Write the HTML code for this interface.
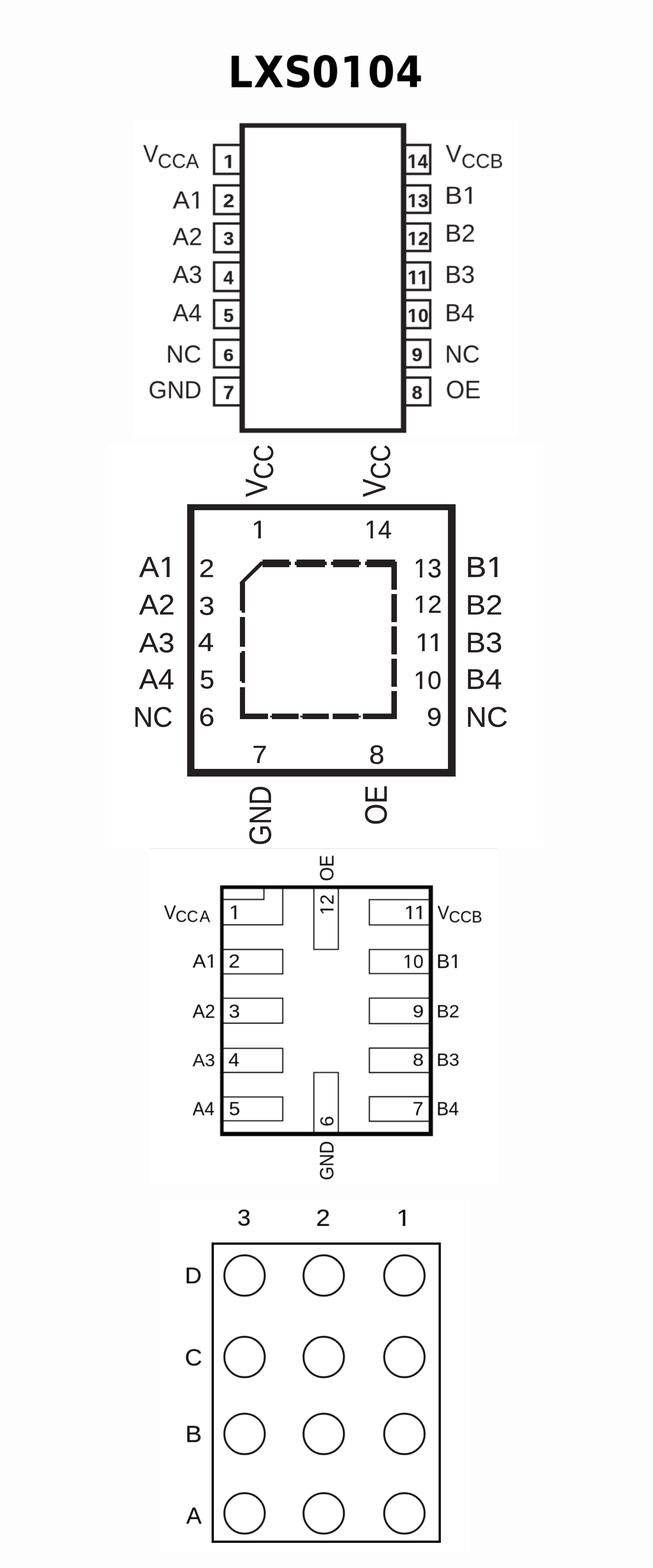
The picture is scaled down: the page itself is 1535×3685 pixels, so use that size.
<!DOCTYPE html>
<html lang="en">
<head>
<meta charset="utf-8">
<title>LXS0104</title>
<style>
html,body{margin:0;padding:0;background:#fdfdfd;}
body{width:1535px;height:3685px;overflow:hidden;position:relative;}
svg{display:block;position:absolute;left:0;top:0;font-family:"Liberation Sans",sans-serif;}
</style>
</head>
<body>
<svg width="1535" height="3685" viewBox="0 0 1535 3685" role="img" aria-label="LXS0104 pin configurations">
<defs>
<filter id="soft-pin-sop14" filterUnits="userSpaceOnUse" x="320" y="284" width="890" height="740" color-interpolation-filters="sRGB"><feConvolveMatrix order="3" kernelMatrix="1 2 1 2 4 2 1 2 1" divisor="16" edgeMode="duplicate" preserveAlpha="false"/></filter>
<filter id="soft-pin-uqfn12" filterUnits="userSpaceOnUse" x="370" y="2000" width="780" height="780" color-interpolation-filters="sRGB"><feConvolveMatrix order="3" kernelMatrix="1 2 1 2 4 2 1 2 1" divisor="16" edgeMode="duplicate" preserveAlpha="false"/></filter>
<filter id="soft-pin-bga12" filterUnits="userSpaceOnUse" x="420" y="2830" width="640" height="810" color-interpolation-filters="sRGB"><feConvolveMatrix order="3" kernelMatrix="1 2 1 2 4 2 1 2 1" divisor="16" edgeMode="duplicate" preserveAlpha="false"/></filter>
<filter id="soft-title" filterUnits="userSpaceOnUse" x="530" y="115" width="480" height="105" color-interpolation-filters="sRGB"><feConvolveMatrix order="3" kernelMatrix="1 4 1 4 16 4 1 4 1" divisor="36" edgeMode="duplicate" preserveAlpha="false"/></filter>
<clipPath id="k1"><path clip-rule="evenodd" d="M-60 -130H400V60H-60ZM3.2 -12.3H23.0V4.3H3.2ZM37.5 -12.3H56.3V4.3H37.5Z"/></clipPath>
<clipPath id="k2"><path clip-rule="evenodd" d="M-60 -130H400V60H-60ZM3.2 -12.3H23.0V4.3H3.2ZM37.5 -12.3H56.3V4.3H37.5ZM53.3 -12.3H73.1V4.3H53.3ZM87.6 -12.3H106.4V4.3H87.6Z"/></clipPath>
<clipPath id="k3"><path clip-rule="evenodd" d="M-60 -130H400V60H-60ZM71.2 -9.5H91.5V4.0H71.2ZM100.9 -9.5H120.2V4.0H100.9Z"/></clipPath>
<clipPath id="k4"><path clip-rule="evenodd" d="M-60 -130H400V60H-60ZM4.2 -9.8H24.5V4.3H4.2ZM34.5 -9.8H53.8V4.3H34.5Z"/></clipPath>
<clipPath id="k5"><path clip-rule="evenodd" d="M-60 -130H400V60H-60ZM4.2 -9.8H24.5V4.3H4.2ZM34.5 -9.8H53.8V4.3H34.5ZM52.4 -9.8H72.7V4.3H52.4ZM82.7 -9.8H102.0V4.3H82.7Z"/></clipPath>
<clipPath id="k6"><path clip-rule="evenodd" d="M-60 -130H400V60H-60ZM70.9 -9.8H91.2V4.3H70.9ZM101.2 -9.8H120.5V4.3H101.2Z"/></clipPath>
<clipPath id="k7"><path clip-rule="evenodd" d="M-60 -130H400V60H-60ZM4.5 -9.5H24.8V4.0H4.5ZM34.2 -9.5H53.5V4.0H34.2Z"/></clipPath>
<clipPath id="k8"><path clip-rule="evenodd" d="M-60 -130H400V60H-60ZM4.5 -9.5H24.8V4.0H4.5ZM34.2 -9.5H53.5V4.0H34.2ZM52.7 -9.5H73.0V4.0H52.7ZM82.4 -9.5H101.7V4.0H82.4Z"/></clipPath>
<clipPath id="k9"><path clip-rule="evenodd" d="M-60 -130H400V60H-60ZM4.3 -9.7H24.6V4.2H4.3ZM34.4 -9.7H53.7V4.2H34.4Z"/></clipPath>
<clipPath id="k10"><path clip-rule="evenodd" d="M0 -130H1600V60H0ZM792.0 -15.0H809.4V4H792.0ZM826.6 -15.0H844.0V4H826.6Z"/></clipPath>
</defs>
<g filter="url(#soft-title)">
<g id="title" transform="matrix(1.0192 0 0 1.0192 0 204.90)"><text x="526.00 585.21 655.46 719.45 784.51 848.13 912.40" y="0" font-size="100" font-weight="bold" font-family="'DejaVu Sans Condensed', 'DejaVu Sans', 'Liberation Sans', sans-serif" fill="#000" clip-path="url(#k10)">LXS0104</text></g>
</g>
<rect x="314.8" y="283.4" width="901" height="743.5" fill="#fff"/>
<g id="pin-sop14" stroke="#231f20" fill="#231f20" color="#231f20">
<g filter="url(#soft-pin-sop14)">
<g stroke="none">
<text transform="matrix(0.4872 0 0 0.4429 524.98 394.88)" font-size="100" font-weight="bold" stroke="currentColor" stroke-width="0.52" stroke-linejoin="round" clip-path="url(#k1)">1</text>
<text transform="matrix(0.4804 0 0 0.4423 524.14 487.08)" font-size="100" font-weight="bold" stroke="currentColor" stroke-width="0.52" stroke-linejoin="round">2</text>
<text transform="matrix(0.4497 0 0 0.4375 525.00 575.74)" font-size="100" font-weight="bold" stroke="currentColor" stroke-width="0.54" stroke-linejoin="round">3</text>
<text transform="matrix(0.4348 0 0 0.4516 524.97 668.08)" font-size="100" font-weight="bold" stroke="currentColor" stroke-width="0.54" stroke-linejoin="round">4</text>
<text transform="matrix(0.4352 0 0 0.4409 525.31 757.04)" font-size="100" font-weight="bold" stroke="currentColor" stroke-width="0.55" stroke-linejoin="round">5</text>
<text transform="matrix(0.4384 0 0 0.4304 525.09 848.75)" font-size="100" font-weight="bold" stroke="currentColor" stroke-width="0.55" stroke-linejoin="round">6</text>
<text transform="matrix(0.4680 0 0 0.4516 524.51 938.28)" font-size="100" font-weight="bold" stroke="currentColor" stroke-width="0.52" stroke-linejoin="round">7</text>
<text transform="matrix(0.4296 0 0 0.4574 958.11 394.88)" font-size="100" font-weight="bold" stroke="currentColor" stroke-width="0.54" stroke-linejoin="round" clip-path="url(#k1)">14</text>
<text transform="matrix(0.4424 0 0 0.4473 958.02 486.63)" font-size="100" font-weight="bold" stroke="currentColor" stroke-width="0.54" stroke-linejoin="round" clip-path="url(#k1)">13</text>
<text transform="matrix(0.4446 0 0 0.4437 958.01 576.18)" font-size="100" font-weight="bold" stroke="currentColor" stroke-width="0.54" stroke-linejoin="round" clip-path="url(#k1)">12</text>
<text transform="matrix(0.4745 0 0 0.4574 957.80 668.08)" font-size="100" font-weight="bold" stroke="currentColor" stroke-width="0.52" stroke-linejoin="round" clip-path="url(#k2)">11</text>
<text transform="matrix(0.4446 0 0 0.4417 958.01 757.04)" font-size="100" font-weight="bold" stroke="currentColor" stroke-width="0.54" stroke-linejoin="round" clip-path="url(#k1)">10</text>
<text transform="matrix(0.4590 0 0 0.4375 967.81 848.74)" font-size="100" font-weight="bold" stroke="currentColor" stroke-width="0.54" stroke-linejoin="round">9</text>
<text transform="matrix(0.4497 0 0 0.4403 968.07 938.24)" font-size="100" font-weight="bold" stroke="currentColor" stroke-width="0.54" stroke-linejoin="round">8</text>
<text transform="matrix(0.5344 0 0 0.5754 336.53 381.00)" font-size="100">V</text>
<text transform="matrix(0.4599 0 0 0.4746 370.70 394.53)" font-size="100">CCA</text>
<text transform="matrix(0.6000 0 0 0.5768 406.00 489.50)" font-size="100" clip-path="url(#k3)">A1</text>
<text transform="matrix(0.5684 0 0 0.5686 406.02 576.30)" font-size="100">A2</text>
<text transform="matrix(0.5660 0 0 0.5676 406.02 665.03)" font-size="100">A3</text>
<text transform="matrix(0.5588 0 0 0.5783 406.02 754.70)" font-size="100">A4</text>
<text transform="matrix(0.5751 0 0 0.5817 390.40 852.32)" font-size="100">NC</text>
<text transform="matrix(0.5619 0 0 0.5803 348.99 936.22)" font-size="100">GND</text>
<text transform="matrix(0.5588 0 0 0.5754 1047.72 381.00)" font-size="100">V</text>
<text transform="matrix(0.4637 0 0 0.4746 1084.68 394.53)" font-size="100">CCB</text>
<text transform="matrix(0.6227 0 0 0.5710 1045.62 478.70)" font-size="100" clip-path="url(#k3)">B1</text>
<text transform="matrix(0.5817 0 0 0.5700 1045.95 568.40)" font-size="100">B2</text>
<text transform="matrix(0.5745 0 0 0.5676 1046.00 665.03)" font-size="100">B3</text>
<text transform="matrix(0.5668 0 0 0.5783 1046.07 754.70)" font-size="100">B4</text>
<text transform="matrix(0.5675 0 0 0.5817 1046.06 852.32)" font-size="100">NC</text>
<text transform="matrix(0.5683 0 0 0.5887 1048.04 936.41)" font-size="100">OE</text>
</g>
<rect x="503.25" y="340.65" width="63.90" height="68.00" fill="none" stroke-width="5.7"/>
<rect x="503.25" y="435.65" width="63.90" height="67.50" fill="none" stroke-width="5.7"/>
<rect x="503.25" y="525.25" width="63.90" height="67.50" fill="none" stroke-width="5.7"/>
<rect x="503.25" y="616.65" width="63.90" height="67.30" fill="none" stroke-width="5.7"/>
<rect x="503.25" y="705.65" width="63.90" height="65.50" fill="none" stroke-width="5.7"/>
<rect x="503.25" y="798.45" width="63.90" height="64.80" fill="none" stroke-width="5.7"/>
<rect x="503.25" y="887.35" width="63.90" height="65.30" fill="none" stroke-width="5.7"/>
<rect x="950.85" y="340.65" width="60.50" height="68.00" fill="none" stroke-width="5.7"/>
<rect x="950.85" y="435.65" width="60.50" height="64.60" fill="none" stroke-width="5.7"/>
<rect x="950.85" y="525.25" width="60.50" height="64.60" fill="none" stroke-width="5.7"/>
<rect x="950.85" y="616.65" width="60.50" height="64.80" fill="none" stroke-width="5.7"/>
<rect x="950.85" y="705.65" width="60.50" height="65.50" fill="none" stroke-width="5.7"/>
<rect x="950.85" y="798.45" width="60.50" height="64.80" fill="none" stroke-width="5.7"/>
<rect x="950.85" y="887.35" width="60.50" height="65.30" fill="none" stroke-width="5.7"/>
<path fill-rule="evenodd" stroke="none" d="M563 289.5H955V1017.2H563ZM575.6 300.2V1006.6H942.4V300.2Z"/>
</g>
</g>
<rect x="254" y="1046" width="1023" height="945" fill="#fff"/>
<g id="pin-qfn14" stroke="#231f20" fill="#231f20" color="#231f20">
<g>
<g stroke="none">
<text transform="matrix(0 -0.6397 0.7319 0 628.00 1167.72)" font-size="100" stroke="currentColor" stroke-width="0.58" stroke-linejoin="round">V</text>
<text transform="matrix(0 -0.5624 0.6394 0 641.66 1126.21)" font-size="100" stroke="currentColor" stroke-width="0.67" stroke-linejoin="round">CC</text>
<text transform="matrix(0 -0.6397 0.7507 0 905.50 1167.72)" font-size="100" stroke="currentColor" stroke-width="0.58" stroke-linejoin="round">V</text>
<text transform="matrix(0 -0.5624 0.6507 0 916.75 1126.21)" font-size="100" stroke="currentColor" stroke-width="0.66" stroke-linejoin="round">CC</text>
<text transform="matrix(0.6472 0 0 0.5884 590.97 1265.30)" font-size="100" stroke="currentColor" stroke-width="0.65" stroke-linejoin="round" clip-path="url(#k4)">1</text>
<text transform="matrix(0.5768 0 0 0.5884 856.72 1265.30)" font-size="100" stroke="currentColor" stroke-width="0.69" stroke-linejoin="round" clip-path="url(#k4)">14</text>
<text transform="matrix(0.6506 0 0 0.5914 467.75 1355.80)" font-size="100" stroke="currentColor" stroke-width="0.64" stroke-linejoin="round">2</text>
<text transform="matrix(0.6638 0 0 0.6099 467.54 1444.69)" font-size="100" stroke="currentColor" stroke-width="0.63" stroke-linejoin="round">3</text>
<text transform="matrix(0.6759 0 0 0.6145 465.31 1530.20)" font-size="100" stroke="currentColor" stroke-width="0.62" stroke-linejoin="round">4</text>
<text transform="matrix(0.6189 0 0 0.6129 469.52 1617.69)" font-size="100" stroke="currentColor" stroke-width="0.65" stroke-linejoin="round">5</text>
<text transform="matrix(0.6630 0 0 0.6169 467.58 1705.78)" font-size="100" stroke="currentColor" stroke-width="0.63" stroke-linejoin="round">6</text>
<text transform="matrix(0.5918 0 0 0.6282 972.28 1356.67)" font-size="100" stroke="currentColor" stroke-width="0.66" stroke-linejoin="round" clip-path="url(#k4)">13</text>
<text transform="matrix(0.5979 0 0 0.5686 972.22 1440.00)" font-size="100" stroke="currentColor" stroke-width="0.69" stroke-linejoin="round" clip-path="url(#k4)">12</text>
<text transform="matrix(0.6276 0 0 0.5884 976.74 1530.20)" font-size="100" stroke="currentColor" stroke-width="0.66" stroke-linejoin="round" clip-path="url(#k5)">11</text>
<text transform="matrix(0.5888 0 0 0.6000 972.31 1619.20)" font-size="100" stroke="currentColor" stroke-width="0.67" stroke-linejoin="round" clip-path="url(#k4)">10</text>
<text transform="matrix(0.6323 0 0 0.6169 1003.35 1705.78)" font-size="100" stroke="currentColor" stroke-width="0.64" stroke-linejoin="round">9</text>
<text transform="matrix(0.6297 0 0 0.5725 592.98 1793.40)" font-size="100" stroke="currentColor" stroke-width="0.67" stroke-linejoin="round">7</text>
<text transform="matrix(0.6468 0 0 0.6211 867.79 1795.18)" font-size="100" stroke="currentColor" stroke-width="0.63" stroke-linejoin="round">8</text>
<text transform="matrix(0.7080 0 0 0.6913 327.05 1355.80)" font-size="100" stroke="currentColor" stroke-width="0.57" stroke-linejoin="round" clip-path="url(#k6)">A1</text>
<text transform="matrix(0.6846 0 0 0.6586 327.06 1443.80)" font-size="100" stroke="currentColor" stroke-width="0.60" stroke-linejoin="round">A2</text>
<text transform="matrix(0.6817 0 0 0.6563 327.06 1533.14)" font-size="100" stroke="currentColor" stroke-width="0.60" stroke-linejoin="round">A3</text>
<text transform="matrix(0.6731 0 0 0.6696 327.06 1618.60)" font-size="100" stroke="currentColor" stroke-width="0.60" stroke-linejoin="round">A4</text>
<text transform="matrix(0.6415 0 0 0.6704 313.27 1708.13)" font-size="100" stroke="currentColor" stroke-width="0.61" stroke-linejoin="round">NC</text>
<text transform="matrix(0.7405 0 0 0.6913 1094.28 1355.80)" font-size="100" stroke="currentColor" stroke-width="0.56" stroke-linejoin="round" clip-path="url(#k6)">B1</text>
<text transform="matrix(0.7105 0 0 0.6500 1094.52 1443.80)" font-size="100" stroke="currentColor" stroke-width="0.59" stroke-linejoin="round">B2</text>
<text transform="matrix(0.7073 0 0 0.6662 1094.54 1533.33)" font-size="100" stroke="currentColor" stroke-width="0.58" stroke-linejoin="round">B3</text>
<text transform="matrix(0.6978 0 0 0.6696 1094.62 1618.60)" font-size="100" stroke="currentColor" stroke-width="0.59" stroke-linejoin="round">B4</text>
<text transform="matrix(0.6860 0 0 0.6704 1094.71 1708.13)" font-size="100" stroke="currentColor" stroke-width="0.59" stroke-linejoin="round">NC</text>
<text transform="matrix(0 -0.6329 0.7169 0 636.68 1986.66)" font-size="100" stroke="currentColor" stroke-width="0.59" stroke-linejoin="round">GND</text>
<text transform="matrix(0 -0.6494 0.7296 0 908.77 1939.12)" font-size="100" stroke="currentColor" stroke-width="0.58" stroke-linejoin="round">OE</text>
</g>
<path fill-rule="evenodd" stroke="none" shape-rendering="crispEdges" d="M439.6 1185.4H1071.2V1824.5H439.6ZM456.9 1199.2V1806.6H1053.3V1199.2Z"/>
<path stroke="none" shape-rendering="crispEdges" d="M617.4 1315.2H679.5V1332.5H617.4ZM696.8 1315.2H763.5V1332.5H696.8ZM782.5 1315.2H843.8V1332.5H782.5ZM862 1315.2H928.7V1332.5H862ZM613 1319.6000000000001H684V1328.1H613ZM692.5 1319.6000000000001H768V1328.1H692.5ZM778.2 1319.6000000000001H848V1328.1H778.2ZM857.6 1319.6000000000001H933.2V1328.1H857.6ZM919.9 1319.6H933.2V1386H919.9ZM919.9 1395.7H933.2V1462H919.9ZM919.9 1471.9H933.2V1537.9H919.9ZM919.9 1548H933.2V1614.3H919.9ZM919.9 1623.7H933.2V1689.6H919.9ZM563.5 1369.2H576.3V1435H563.5ZM563.5 1449.7H576.3V1520.4H563.5ZM563.5 1534.2H576.3V1600.5H563.5ZM563.5 1615.1H576.3V1689.6H563.5ZM567.9 1435H576.3V1439.6H567.9ZM567.9 1530.2H576.3V1605H567.9ZM563.5 1677.3H630.1V1689.6H563.5ZM639.4 1677.3H701.7V1689.6H639.4ZM711 1677.3H773.2V1689.6H711ZM781.8 1677.3H843.3V1689.6H781.8ZM852.6 1677.3H933.2V1689.6H852.6ZM634.8 1681.5H702V1685.6H634.8ZM706.3 1681.5H773.2V1685.6H706.3ZM781.8 1681.5H847.8V1685.6H781.8Z"/>
<path stroke="none" d="M563.5 1371V1368.5L612.5 1319.6H619.5V1325.5L572.5 1371Z"/>
</g>
</g>
<rect x="350.4" y="1994" width="820.7" height="789.8" fill="#fff"/><rect x="350.4" y="1993.6" width="820.7" height="1.7" fill="#e8e8e8"/>
<g id="pin-uqfn12" stroke="#050508" fill="#050508" color="#050508">
<g filter="url(#soft-pin-uqfn12)">
<g stroke="none">
<text transform="matrix(0.5117 0 0 0.4652 537.97 2159.70)" font-size="100" clip-path="url(#k7)">1</text>
<text transform="matrix(0.4871 0 0 0.4429 537.28 2274.00)" font-size="100">2</text>
<text transform="matrix(0.4803 0 0 0.4366 537.59 2391.56)" font-size="100">3</text>
<text transform="matrix(0.4700 0 0 0.4420 536.83 2506.10)" font-size="100">4</text>
<text transform="matrix(0.4779 0 0 0.4429 537.89 2620.86)" font-size="100">5</text>
<text transform="matrix(0.4942 0 0 0.4493 950.04 2160.00)" font-size="100" clip-path="url(#k8)">11</text>
<text transform="matrix(0.4337 0 0 0.4423 947.28 2274.56)" font-size="100" clip-path="url(#k7)">10</text>
<text transform="matrix(0.4725 0 0 0.4296 970.09 2391.37)" font-size="100">9</text>
<text transform="matrix(0.4710 0 0 0.4282 970.01 2505.37)" font-size="100">8</text>
<text transform="matrix(0.4615 0 0 0.4406 969.69 2620.80)" font-size="100">7</text>
<text transform="matrix(0.4244 0 0 0.4580 385.39 2159.60)" font-size="100">V</text>
<text transform="matrix(0.3683 0 0 0.3845 412.76 2166.92)" font-size="100">CC</text>
<text transform="matrix(0.3742 0 0 0.3883 469.11 2167.00)" font-size="100">A</text>
<text transform="matrix(0.4700 0 0 0.4464 452.66 2273.80)" font-size="100" clip-path="url(#k3)">A1</text>
<text transform="matrix(0.4350 0 0 0.4357 452.68 2391.80)" font-size="100">A2</text>
<text transform="matrix(0.4332 0 0 0.4324 452.68 2505.87)" font-size="100">A3</text>
<text transform="matrix(0.4210 0 0 0.4420 452.69 2620.80)" font-size="100">A4</text>
<text transform="matrix(0.4092 0 0 0.4493 1028.60 2160.00)" font-size="100">V</text>
<text transform="matrix(0.3716 0 0 0.3831 1055.14 2167.62)" font-size="100">CCB</text>
<text transform="matrix(0.4735 0 0 0.4551 1025.91 2275.00)" font-size="100" clip-path="url(#k3)">B1</text>
<text transform="matrix(0.4411 0 0 0.4286 1026.17 2391.30)" font-size="100">B2</text>
<text transform="matrix(0.4391 0 0 0.4282 1026.19 2505.37)" font-size="100">B3</text>
<text transform="matrix(0.4287 0 0 0.4406 1026.27 2620.80)" font-size="100">B4</text>
<text transform="matrix(0 -0.4266 0.4535 0 783.55 2070.72)" font-size="100">OE</text>
<text transform="matrix(0 -0.4383 0.4429 0 784.00 2150.56)" font-size="100" clip-path="url(#k7)">12</text>
<text transform="matrix(0 -0.4500 0.4366 0 783.56 2647.55)" font-size="100">6</text>
<text transform="matrix(0 -0.4136 0.4563 0 783.54 2773.57)" font-size="100">GND</text>
</g>
<path d="M522 2173.4H664.7V2085" fill="none" stroke-width="2.6"/>
<path d="M522 2113.9H620.4V2085" fill="none" stroke-width="2.6"/>
<path d="M522 2231.4H664.7V2288.8H522" fill="none" stroke-width="2.6"/>
<path d="M522 2346H664.7V2404.6H522" fill="none" stroke-width="2.6"/>
<path d="M522 2463.7H664.7V2520.4H522" fill="none" stroke-width="2.6"/>
<path d="M522 2578H664.7V2634H522" fill="none" stroke-width="2.6"/>
<path d="M1012 2114.3H868.2V2173.8H1012" fill="none" stroke-width="2.6"/>
<path d="M1012 2231.5H868.2V2288H1012" fill="none" stroke-width="2.6"/>
<path d="M1012 2345.7H868.2V2405.6H1012" fill="none" stroke-width="2.6"/>
<path d="M1012 2463.1H868.2V2520.6H1012" fill="none" stroke-width="2.6"/>
<path d="M1012 2577.4H868.2V2635.1H1012" fill="none" stroke-width="2.6"/>
<path d="M737.8 2085V2231.2H795.3V2085" fill="none" stroke-width="2.6"/>
<path d="M737.8 2665V2520.5H795.3V2665" fill="none" stroke-width="2.6"/>
<path fill-rule="evenodd" stroke="none" d="M517.5 2080.8H1017.6V2670H517.5ZM525.6 2089.2V2660.1H1007.7V2089.2Z"/>
</g>
</g>
<rect x="376.8" y="2818" width="727" height="829.8" fill="#fff"/>
<g id="pin-bga12" stroke="#060606" fill="#060606" color="#060606">
<rect x="500.05" y="2922.65" width="533.60" height="700.60" fill="none" stroke="#000" stroke-width="5.3"/>
<g filter="url(#soft-pin-bga12)">
<g stroke="none">
<text transform="matrix(0.5630 0 0 0.5389 557.97 2880.34)" font-size="100" stroke="currentColor" stroke-width="0.44" stroke-linejoin="round">3</text>
<text transform="matrix(0.6012 0 0 0.5466 742.77 2880.88)" font-size="100" stroke="currentColor" stroke-width="0.42" stroke-linejoin="round">2</text>
<text transform="matrix(0.6099 0 0 0.5545 931.78 2880.88)" font-size="100" stroke="currentColor" stroke-width="0.41" stroke-linejoin="round" clip-path="url(#k9)">1</text>
<text transform="matrix(0.5472 0 0 0.5443 434.44 3016.28)" font-size="100" stroke="currentColor" stroke-width="0.44" stroke-linejoin="round">D</text>
<text transform="matrix(0.5629 0 0 0.5558 434.41 3209.02)" font-size="100" stroke="currentColor" stroke-width="0.43" stroke-linejoin="round">C</text>
<text transform="matrix(0.5843 0 0 0.5559 435.45 3389.28)" font-size="100" stroke="currentColor" stroke-width="0.42" stroke-linejoin="round">B</text>
<text transform="matrix(0.5433 0 0 0.5600 437.75 3581.48)" font-size="100" stroke="currentColor" stroke-width="0.44" stroke-linejoin="round">A</text>
</g>
<circle cx="574.9" cy="2997.7" r="47.5" fill="none" stroke-width="4.3"/>
<circle cx="761" cy="2997.7" r="47.5" fill="none" stroke-width="4.3"/>
<circle cx="950.6" cy="2997.7" r="47.5" fill="none" stroke-width="4.3"/>
<circle cx="574.9" cy="3189.2" r="47.5" fill="none" stroke-width="4.3"/>
<circle cx="761" cy="3189.2" r="47.5" fill="none" stroke-width="4.3"/>
<circle cx="950.6" cy="3189.2" r="47.5" fill="none" stroke-width="4.3"/>
<circle cx="574.9" cy="3369.9" r="47.5" fill="none" stroke-width="4.3"/>
<circle cx="761" cy="3369.9" r="47.5" fill="none" stroke-width="4.3"/>
<circle cx="950.6" cy="3369.9" r="47.5" fill="none" stroke-width="4.3"/>
<circle cx="574.9" cy="3556.6" r="47.5" fill="none" stroke-width="4.3"/>
<circle cx="761" cy="3556.6" r="47.5" fill="none" stroke-width="4.3"/>
<circle cx="950.6" cy="3556.6" r="47.5" fill="none" stroke-width="4.3"/>
</g>
</g>
</svg>
</body>
</html>
